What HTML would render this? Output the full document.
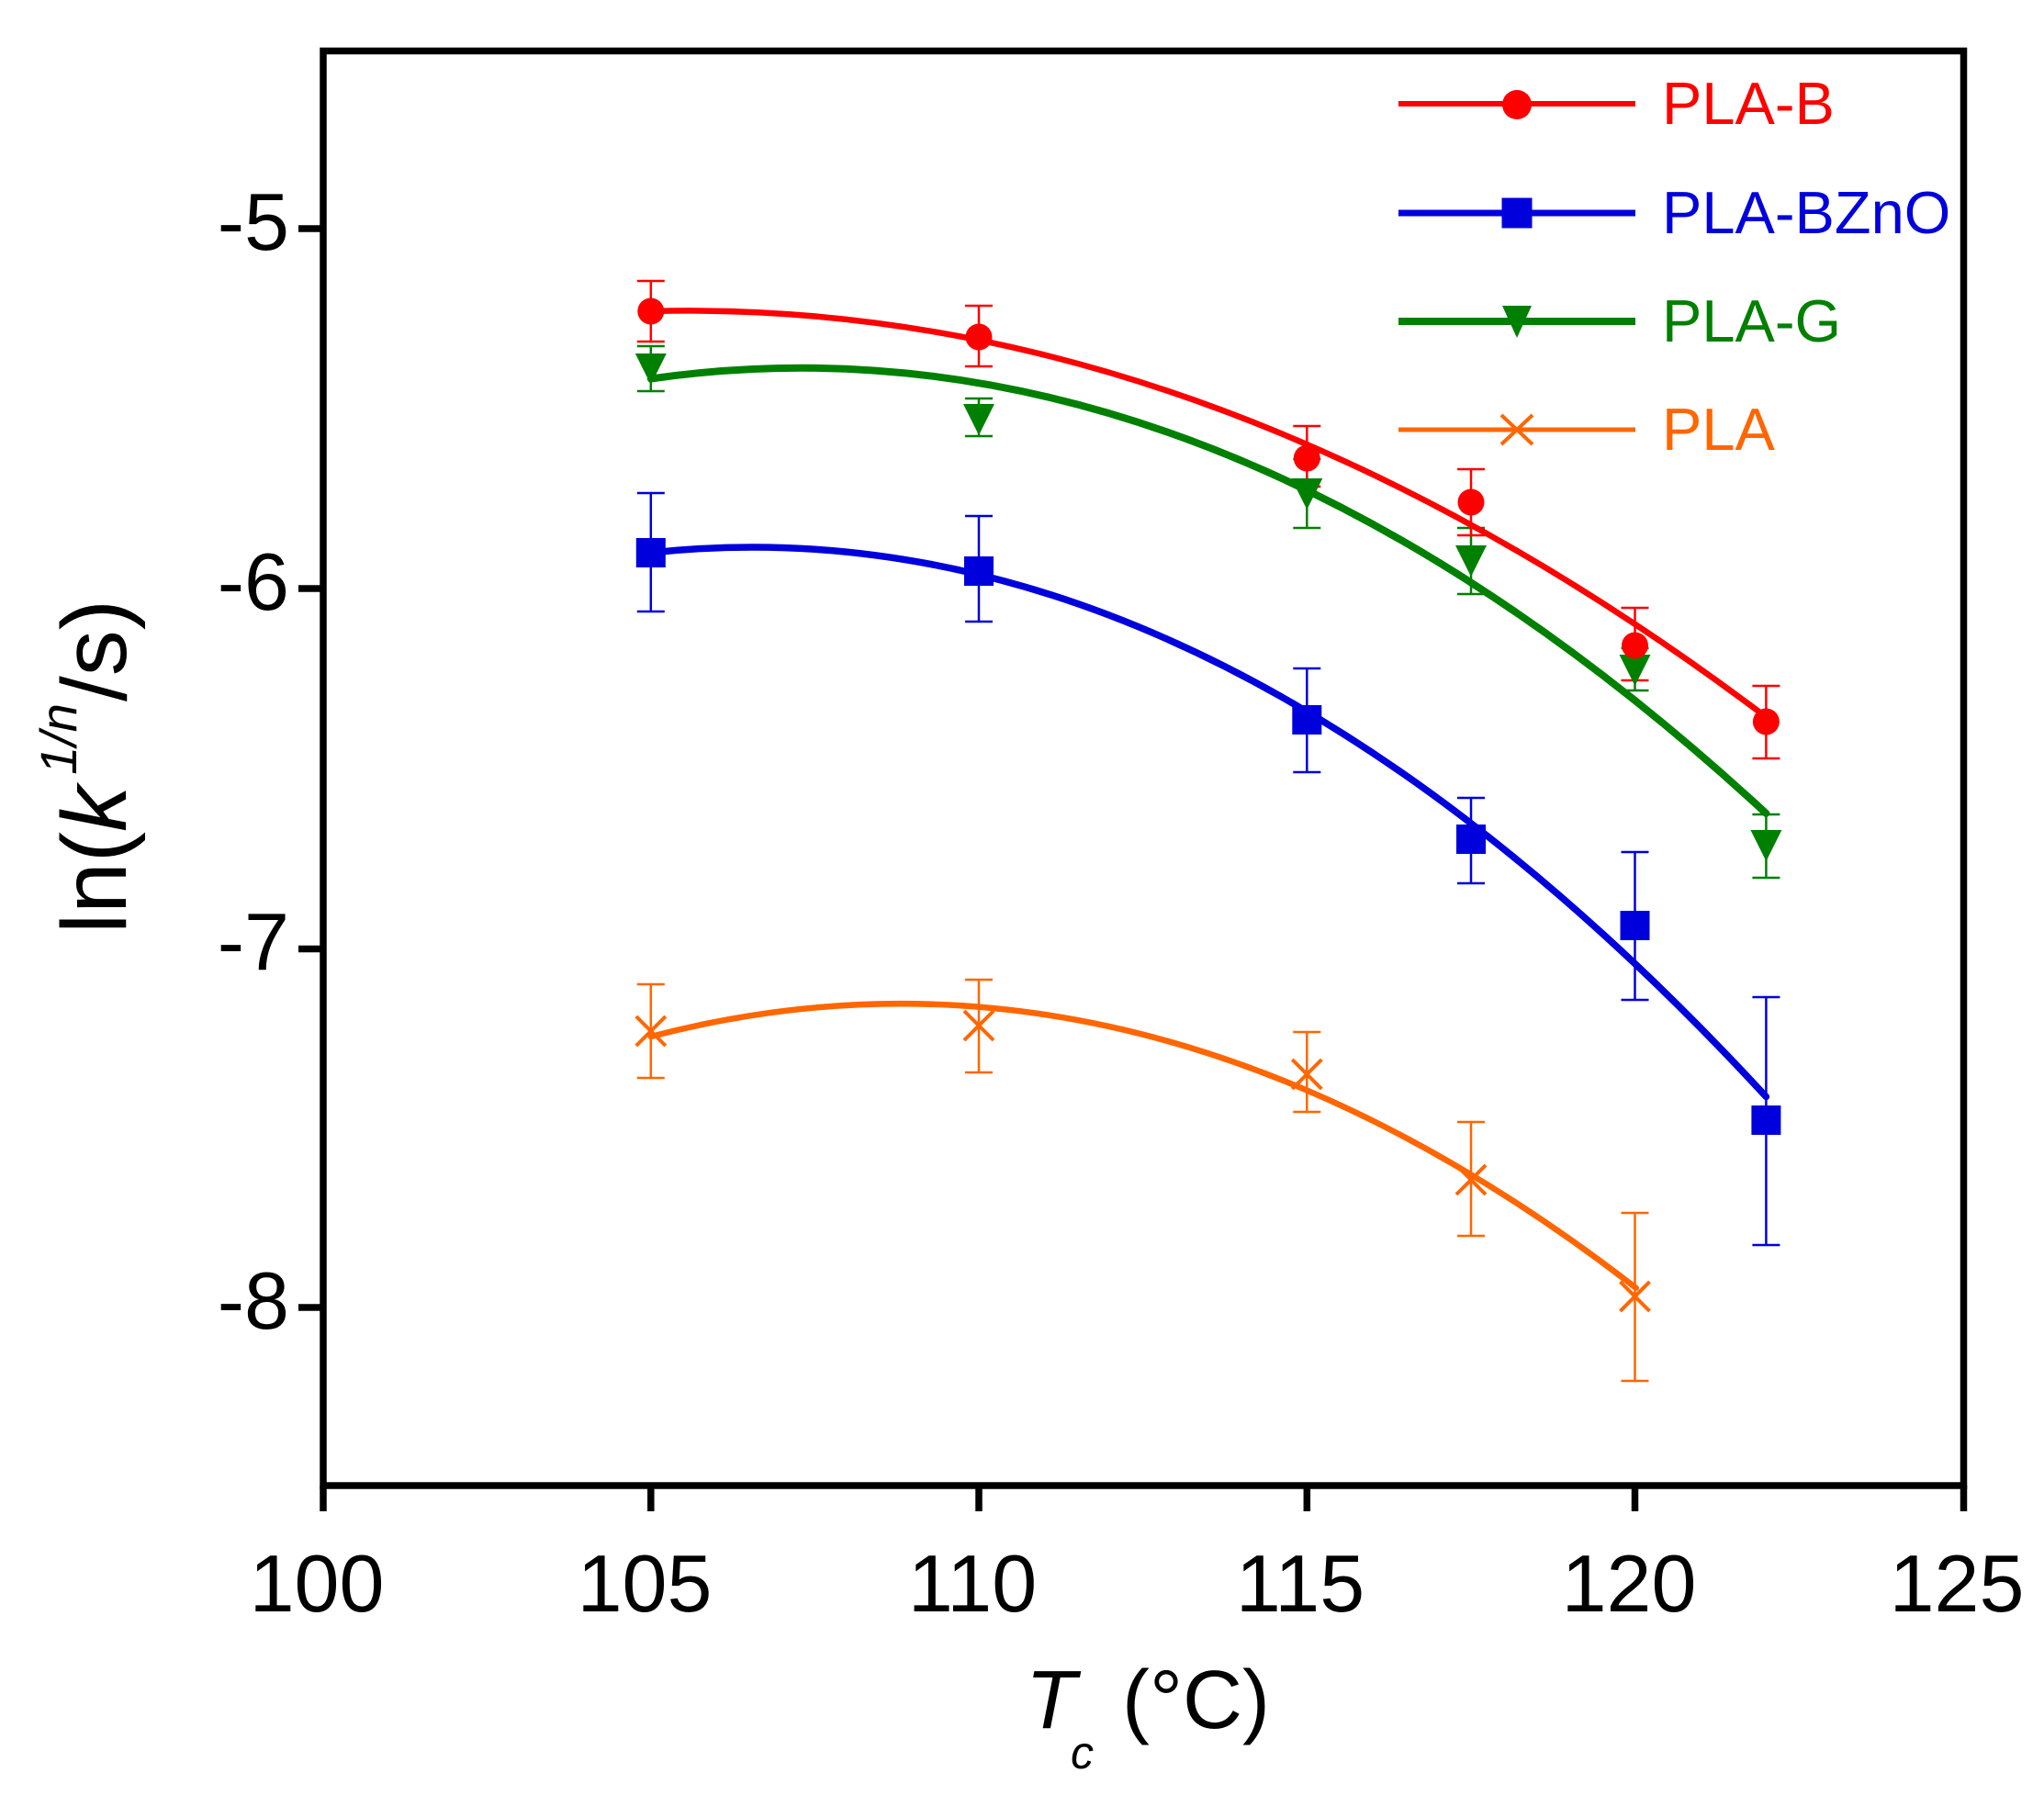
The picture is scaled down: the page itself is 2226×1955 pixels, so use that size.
<!DOCTYPE html>
<html>
<head>
<meta charset="utf-8">
<style>
  html, body { margin: 0; padding: 0; background: #ffffff; }
  svg { display: block; }
  text { font-family: "Liberation Sans", Arial, sans-serif; }
</style>
</head>
<body>
<svg width="2226" height="1955" viewBox="0 0 2226 1955" xmlns="http://www.w3.org/2000/svg">
  <rect x="0" y="0" width="2226" height="1955" fill="#ffffff"/>

  <!-- Error bars -->
  <g stroke-width="2.5" fill="none">
    <g stroke="#ff6600">
      <path d="M708.8,1072V1174M693.8,1072H723.8M693.8,1174H723.8"/>
      <path d="M1066,1067V1168M1051,1067H1081M1051,1168H1081"/>
      <path d="M1423.3,1124V1211M1408.3,1124H1438.3M1408.3,1211H1438.3"/>
      <path d="M1602,1222V1346M1587,1222H1617M1587,1346H1617"/>
      <path d="M1780.5,1321V1504M1765.5,1321H1795.5M1765.5,1504H1795.5"/>
    </g>
    <g stroke="#0000dd">
      <path d="M708.8,537V666M693.8,537H723.8M693.8,666H723.8"/>
      <path d="M1066,562V677M1051,562H1081M1051,677H1081"/>
      <path d="M1423.3,728V841M1408.3,728H1438.3M1408.3,841H1438.3"/>
      <path d="M1602,869V962M1587,869H1617M1587,962H1617"/>
      <path d="M1780.5,928V1089M1765.5,928H1795.5M1765.5,1089H1795.5"/>
      <path d="M1923.4,1086V1356M1908.4,1086H1938.4M1908.4,1356H1938.4"/>
    </g>
    <g stroke="#008000">
      <path d="M708.8,377V426M693.8,377H723.8M693.8,426H723.8"/>
      <path d="M1066,434V475M1051,434H1081M1051,475H1081"/>
      <path d="M1423.3,500V575M1408.3,500H1438.3M1408.3,575H1438.3"/>
      <path d="M1602,575V647M1587,575H1617M1587,647H1617"/>
      <path d="M1780.5,706V752M1765.5,706H1795.5M1765.5,752H1795.5"/>
      <path d="M1923.4,887V956M1908.4,887H1938.4M1908.4,956H1938.4"/>
    </g>
    <g stroke="#ff0000">
      <path d="M708.8,306V372M693.8,306H723.8M693.8,372H723.8"/>
      <path d="M1066,333V399M1051,333H1081M1051,399H1081"/>
      <path d="M1423.3,464V530M1408.3,464H1438.3M1408.3,530H1438.3"/>
      <path d="M1602,511V583M1587,511H1617M1587,583H1617"/>
      <path d="M1780.5,662V741M1765.5,662H1795.5M1765.5,741H1795.5"/>
      <path d="M1923.4,747V826M1908.4,747H1938.4M1908.4,826H1938.4"/>
    </g>
  </g>

  <!-- PLA (orange) -->
  <g stroke="#ff6600" stroke-width="4" fill="none">
    <path d="M692.8,1107L724.8,1139M692.8,1139L724.8,1107"/>
    <path d="M1050,1101L1082,1133M1050,1133L1082,1101"/>
    <path d="M1407.3,1154L1439.3,1186M1407.3,1186L1439.3,1154"/>
    <path d="M1586,1269L1618,1301M1586,1301L1618,1269"/>
    <path d="M1764.5,1396L1796.5,1428M1764.5,1428L1796.5,1396"/>
  </g>
  <path d="M708.8,1129 Q1245.75,987.9 1781.7,1402.8" stroke="#ff6600" stroke-width="6.5" fill="none" stroke-linecap="round"/>

  <!-- PLA-BZnO (blue) -->
  <g fill="#0000dd">
    <rect x="692.8" y="586" width="32" height="32"/>
    <rect x="1050" y="606" width="32" height="32"/>
    <rect x="1407.3" y="768" width="32" height="32"/>
    <rect x="1586" y="898" width="32" height="32"/>
    <rect x="1764.5" y="992" width="32" height="32"/>
    <rect x="1907.4" y="1204" width="32" height="32"/>
  </g>
  <path d="M708.8,602 Q1316.1,535.9 1923.4,1194.5" stroke="#0000dd" stroke-width="7.5" fill="none" stroke-linecap="round"/>

  <!-- PLA-G (green) -->
  <g fill="#008000">
    <path d="M691.8,385H725.8L708.8,419Z"/>
    <path d="M1049,440H1083L1066,474Z"/>
    <path d="M1406.3,521H1440.3L1423.3,555Z"/>
    <path d="M1585,594H1619L1602,628Z"/>
    <path d="M1763.5,713H1797.5L1780.5,747Z"/>
    <path d="M1906.4,904H1940.4L1923.4,938Z"/>
  </g>
  <path d="M708.8,412.5 Q1316.1,325.1 1923.4,885.9" stroke="#008000" stroke-width="8" fill="none" stroke-linecap="round"/>

  <!-- PLA-B (red) -->
  <g fill="#ff0000">
    <circle cx="708.8" cy="339" r="14.5"/>
    <circle cx="1066" cy="367" r="14.5"/>
    <circle cx="1423.3" cy="499" r="14.5"/>
    <circle cx="1602" cy="547" r="14.5"/>
    <circle cx="1780.5" cy="703" r="14.5"/>
    <circle cx="1923.4" cy="786" r="14.5"/>
  </g>
  <path d="M708.8,339 Q1316.1,322.6 1923.4,781" stroke="#ff0000" stroke-width="6.5" fill="none" stroke-linecap="round"/>

  <!-- Axes frame -->
  <rect x="352" y="55.5" width="1786.5" height="1562.5" fill="none" stroke="#000" stroke-width="7.5"/>

  <!-- Y ticks -->
  <g stroke="#000" stroke-width="7.5">
    <path d="M325,249H352"/>
    <path d="M325,641H352"/>
    <path d="M325,1033.5H352"/>
    <path d="M325,1424H352"/>
  </g>
  <!-- X ticks -->
  <g stroke="#000" stroke-width="7.5">
    <path d="M352,1618V1646"/>
    <path d="M708.8,1618V1646"/>
    <path d="M1066,1618V1646"/>
    <path d="M1423.3,1618V1646"/>
    <path d="M1780.5,1618V1646"/>
    <path d="M2138.5,1618V1646"/>
  </g>

  <!-- Y tick labels -->
  <g font-size="88" text-anchor="end" fill="#000">
    <text x="315" y="272">-5</text>
    <text x="315" y="664">-6</text>
    <text x="315" y="1056">-7</text>
    <text x="315" y="1447">-8</text>
  </g>
  <!-- X tick labels -->
  <g font-size="88" text-anchor="middle" fill="#000">
    <text x="345" y="1755">100</text>
    <text x="702" y="1755">105</text>
    <text x="1059" y="1755">110</text>
    <text x="1416" y="1755">115</text>
    <text x="1774" y="1755">120</text>
    <text x="2131" y="1755">125</text>
  </g>

  <!-- X axis label -->
  <text x="1117" y="1882" font-size="90" font-style="italic" fill="#000">T</text>
  <text x="1166" y="1926" font-size="50" font-style="italic" fill="#000">c</text>
  <text x="1222" y="1882" font-size="90" fill="#000">(°C)</text>

  <!-- Y axis label -->
  <text x="-835" y="137" transform="rotate(-90)" text-anchor="middle" font-size="100" fill="#000">ln(<tspan font-style="italic">k</tspan><tspan font-size="56" font-style="italic" dx="12" dy="-54">1/n</tspan><tspan dx="2" dy="54">/s)</tspan></text>

  <!-- Legend -->
  <g>
    <path d="M1523,113H1781" stroke="#ff0000" stroke-width="6"/>
    <circle cx="1652" cy="114" r="16" fill="#ff0000"/>
    <text x="1810" y="135" font-size="65" fill="#ff0000">PLA-B</text>

    <path d="M1523,232H1781" stroke="#0000dd" stroke-width="7"/>
    <rect x="1635.5" y="215.5" width="33" height="33" fill="#0000dd"/>
    <text x="1810" y="254" font-size="65" fill="#0000dd">PLA-BZnO</text>

    <path d="M1523,350H1781" stroke="#008000" stroke-width="8"/>
    <path d="M1636,333H1668L1652,368Z" fill="#008000"/>
    <text x="1810" y="372" font-size="65" fill="#008000">PLA-G</text>

    <path d="M1523,468H1781" stroke="#ff6600" stroke-width="5"/>
    <path d="M1635,452L1669,484M1635,484L1669,452" stroke="#ff6600" stroke-width="4"/>
    <text x="1810" y="490" font-size="65" fill="#ff6600">PLA</text>
  </g>
</svg>
</body>
</html>
